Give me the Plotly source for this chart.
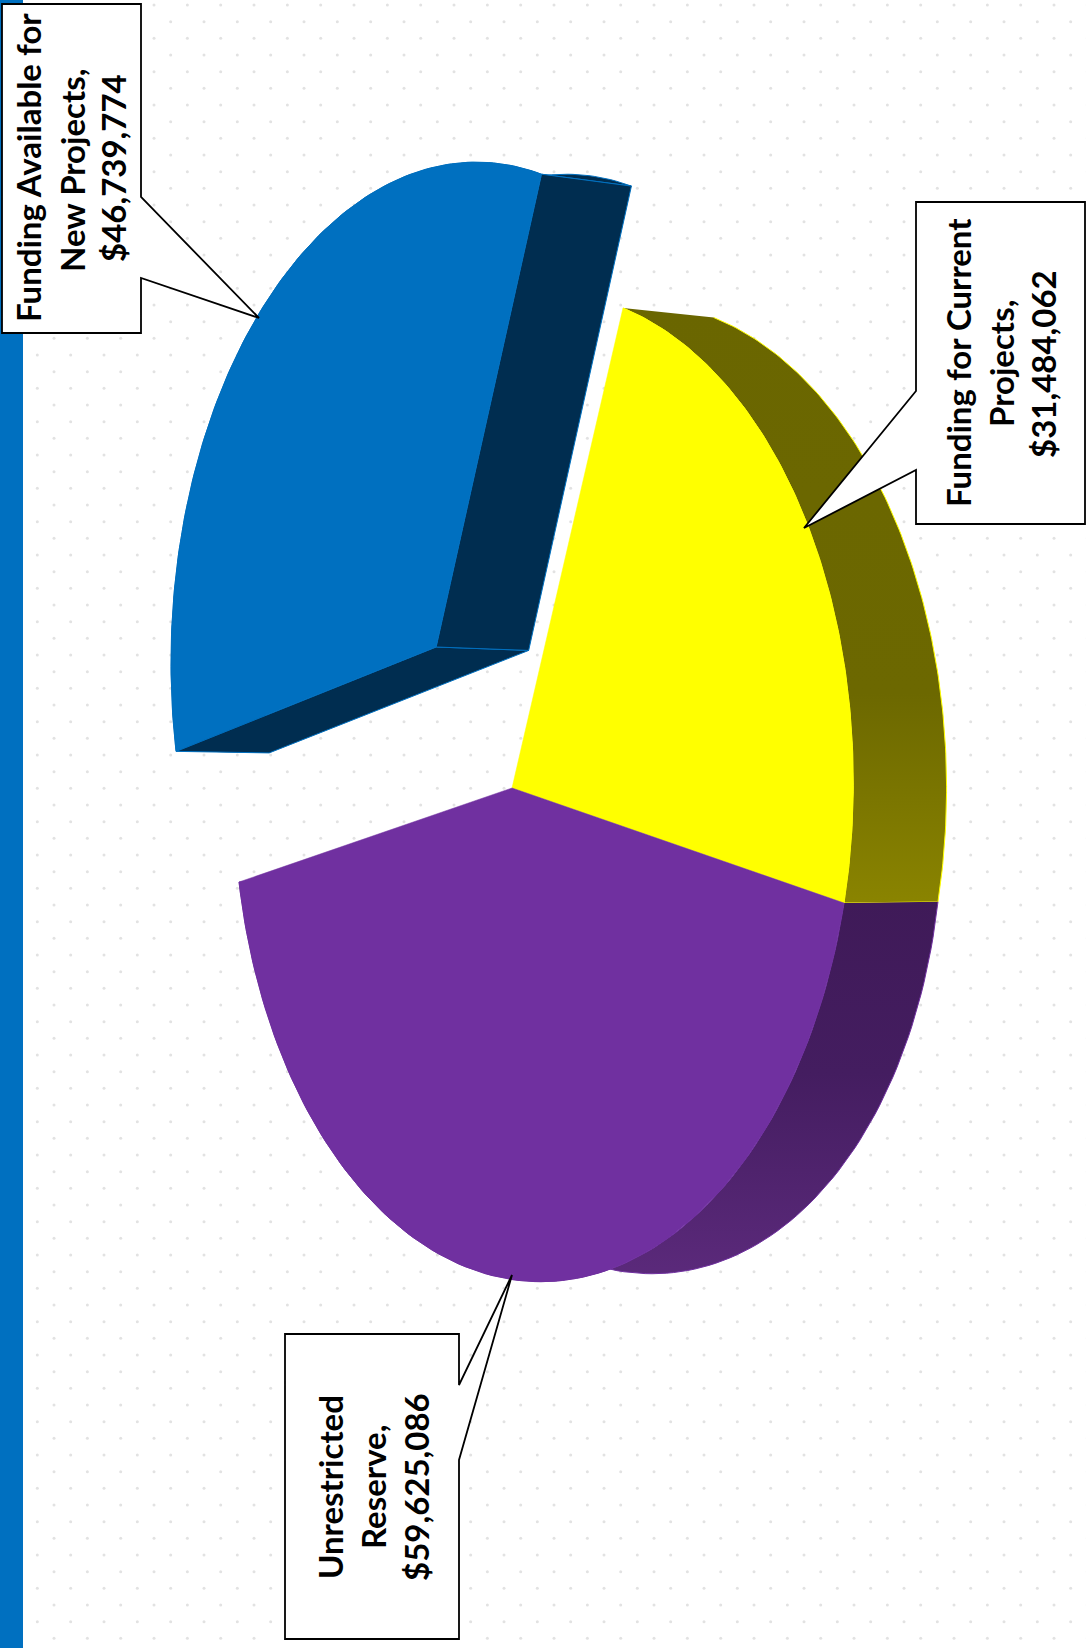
import numpy as np
import plotly.graph_objects as go

# ---- data ----
categories = ["Funding for Current Projects", "Unrestricted Reserve", "Funding Available for New Projects"]
values = [31484062, 59625086, 46739774]
label_lines = [["Funding for Current", "Projects,"], ["Unrestricted", "Reserve,"], ["Funding Available for", "New Projects,"]]
top_colors = ["#FFFF00", "#7030A0", "#0070C0"]
explode = [0.0, 0.0, 0.39]

W, H = 1086, 1648

# ---- pie-plane to page projection (camera of the tilted, rotated 3D pie) ----
angles = np.cumsum([0] + values) / sum(values) * 2 * np.pi
src = [(0, 0), (np.cos(angles[0]), np.sin(angles[0])), (np.cos(angles[1]), np.sin(angles[1])), (np.cos(angles[2]), np.sin(angles[2]))]
dst = [(512, 788), (623, 308), (844, 903), (239, 882)]
A, b = [], []
for (u, v), (X, Y) in zip(src, dst):
    A.append([u, v, 1, 0, 0, 0, -u * X, -v * X]); b.append(X)
    A.append([0, 0, 0, u, v, 1, -u * Y, -v * Y]); b.append(Y)
h = np.linalg.solve(np.array(A, float), np.array(b, float))


def project(u, v):
    d = h[6] * u + h[7] * v + 1
    return (h[0] * u + h[1] * v + h[2]) / d, (h[3] * u + h[4] * v + h[5]) / d


def depth(x, y):
    # pie thickness on the page
    return x + 89 + 0.0055 * y + 0.04 * np.maximum(0, y - 903), y + 15 - 0.0179 * y


def arc(t0, t1, ox, oy, n=120):
    t = np.linspace(t0, t1, n)
    return project(np.cos(t) + ox, np.sin(t) + oy)


fig = go.Figure()

# dotted page background
dx, dy = [], []
for k, row_y in enumerate(np.arange(5, H + 5, 50 / 3)):
    xs = np.arange(20.7 if k % 2 == 0 else 4.0, W + 5, 100 / 3)
    dx.extend(xs); dy.extend([row_y] * len(xs))
fig.add_trace(go.Scatter(x=dx, y=dy, mode="markers", hoverinfo="skip",
                         marker=dict(color="#e2e2e2", size=3, line=dict(width=0))))


def poly(x, y, fill, line, gradient=None, lw=1):
    kw = dict(fillgradient=gradient) if gradient else dict(fillcolor=fill)
    fig.add_trace(go.Scatter(x=list(x), y=list(y), mode="lines", fill="toself",
                             line=dict(color=line, width=lw), hoverinfo="skip", **kw))


# walls
wall_grad = [
    dict(type="vertical", colorscale=[[0, "#6A6600"], [0.65, "#6C6800"], [1, "#8A8400"]], start=300, stop=905),
    dict(type="vertical", colorscale=[[0, "#3F1A58"], [0.45, "#441D60"], [1, "#5C2A7C"]], start=900, stop=1285),
]
for i in (0, 1):
    ax, ay = arc(angles[i], angles[i + 1], 0, 0)
    bx, by = depth(ax, ay)
    poly(np.r_[ax, bx[::-1]], np.r_[ay, by[::-1]], None, top_colors[i], wall_grad[i])

# exploded slice: walls
mid = (angles[2] + angles[3]) / 2
ox, oy = explode[2] * np.cos(mid), explode[2] * np.sin(mid)
ax, ay = arc(angles[2], angles[3], ox, oy)
bx, by = depth(ax, ay)
poly(np.r_[ax, bx[::-1]], np.r_[ay, by[::-1]], "#002D50", "#0070C0")
cx, cy = project(ox, oy)
ccx, ccy = depth(cx, cy)
for ex, ey in ((ax[0], ay[0]), (ax[-1], ay[-1])):
    fx, fy = depth(ex, ey)
    poly([cx, ex, fx, ccx, cx], [cy, ey, fy, ccy, cy], "#002D50", "#0070C0")

# top faces
for i, off in enumerate(explode):
    m = (angles[i] + angles[i + 1]) / 2
    qx, qy = off * np.cos(m), off * np.sin(m)
    ax, ay = arc(angles[i], angles[i + 1], qx, qy)
    c0x, c0y = project(qx, qy)
    poly(np.r_[c0x, ax, c0x], np.r_[c0y, ay, c0y], top_colors[i], top_colors[i], lw=0.5)

# callouts
shapes = [dict(type="rect", xref="x", yref="y", x0=0, x1=23, y0=0, y1=H,
               fillcolor="#0070C0", line=dict(width=0), layer="above")]
callouts = [
    "M916,202 L1085,202 L1085,524 L916,524 L916,470 L804,528 L916,391 Z",
    "M285,1334 L459,1334 L459,1385 L512,1275 L459,1460 L459,1639 L285,1639 Z",
    "M2,4 L141,4 L141,197 L259,318 L141,278 L141,333 L2,333 Z",
]
for p in callouts:
    shapes.append(dict(type="path", xref="x", yref="y", path=p, fillcolor="white",
                       line=dict(color="black", width=1.8), layer="above"))

text_pos = [
    [(958, 363), (1001, 364), (1043, 364)],
    [(330, 1487), (373, 1487), (416, 1487)],
    [(28, 168), (72, 170), (113, 168)],
]
ann = []
for lines, val, pos in zip(label_lines, values, text_pos):
    for t, (x, y) in zip(lines + [f"${val:,}"], pos):
        ann.append(dict(x=x, y=y, xref="x", yref="y", text=f"<b>{t}</b>", textangle=-90, showarrow=False,
                        xanchor="center", yanchor="middle",
                        font=dict(family="Lato, Carlito, sans-serif", size=33, color="black")))

fig.update_layout(width=W, height=H, autosize=False, margin=dict(l=0, r=0, t=0, b=0),
                  paper_bgcolor="white", plot_bgcolor="white", showlegend=False,
                  xaxis=dict(range=[0, W], visible=False, fixedrange=True),
                  yaxis=dict(range=[H, 0], visible=False, fixedrange=True),
                  shapes=shapes, annotations=ann)
fig.write_html("out.html", config=dict(displayModeBar=False),
               post_script="document.body.style.margin='0';")
